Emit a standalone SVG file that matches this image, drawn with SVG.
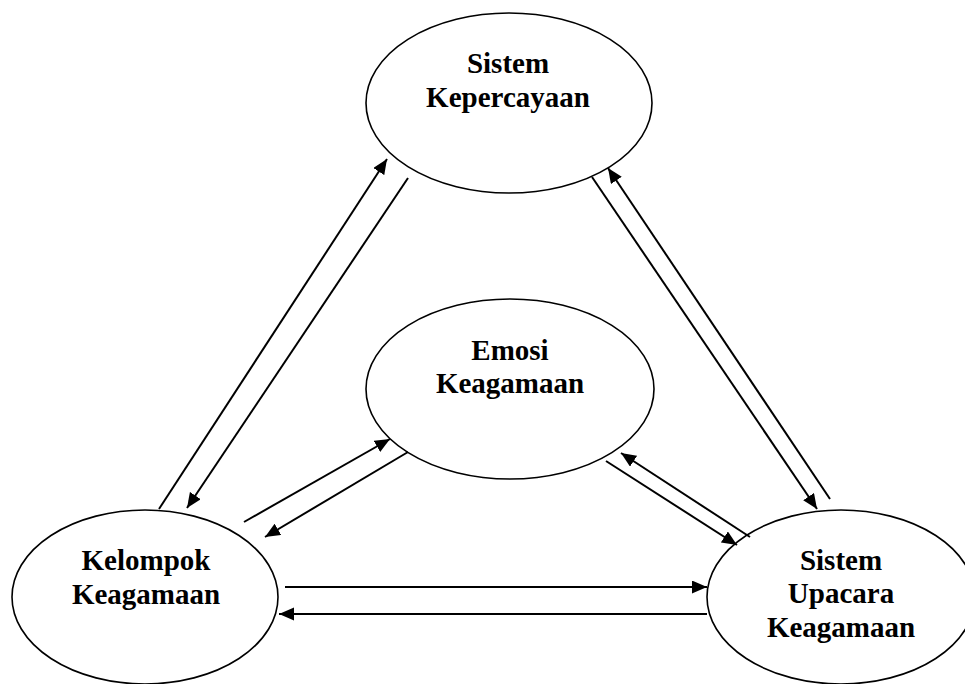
<svg xmlns="http://www.w3.org/2000/svg" width="965" height="684" viewBox="0 0 965 684">
<style>
.node ellipse{fill:#fff;stroke:#000;stroke-width:1.6}
.node text{font-family:"Liberation Serif","Times New Roman",serif;font-weight:bold;font-size:29px;fill:#000;text-anchor:middle}
.conn line{stroke:#000;stroke-width:2;marker-end:url(#ah)}
</style>
<defs>
<marker id="ah" markerUnits="userSpaceOnUse" markerWidth="17" markerHeight="14" refX="15" refY="6.5" orient="auto">
<path d="M0,0 L15,6.5 L0,13 z" fill="#000"/>
</marker>
</defs>
<rect width="965" height="684" fill="#fff"/>
<g id="sistem-kepercayaan" class="node">
<ellipse cx="509" cy="103" rx="143" ry="90"/>
<text x="508" y="73">Sistem</text>
<text x="508" y="107">Kepercayaan</text>
</g>
<g id="emosi-keagamaan" class="node">
<ellipse cx="510" cy="389" rx="144" ry="90"/>
<text x="510" y="360">Emosi</text>
<text x="510" y="393">Keagamaan</text>
</g>
<g id="kelompok-keagamaan" class="node">
<ellipse cx="145" cy="597" rx="133" ry="87"/>
<text x="146" y="570">Kelompok</text>
<text x="146" y="604">Keagamaan</text>
</g>
<g id="sistem-upacara-keagamaan" class="node">
<ellipse cx="841" cy="597" rx="134" ry="87"/>
<text x="841" y="570">Sistem</text>
<text x="841" y="603">Upacara</text>
<text x="841" y="637">Keagamaan</text>
</g>
<g id="connectors" class="conn">
<line x1="159" y1="509" x2="387" y2="159"/>
<line x1="408" y1="178" x2="187" y2="508"/>
<line x1="244" y1="522" x2="390" y2="439"/>
<line x1="408" y1="452" x2="265" y2="537"/>
<line x1="592" y1="177" x2="817" y2="509"/>
<line x1="830" y1="499" x2="608" y2="168"/>
<line x1="750" y1="537" x2="621" y2="453"/>
<line x1="606" y1="461" x2="737" y2="545"/>
<line x1="285" y1="587" x2="707" y2="587"/>
<line x1="707" y1="614" x2="279" y2="614"/>
</g>
</svg>
